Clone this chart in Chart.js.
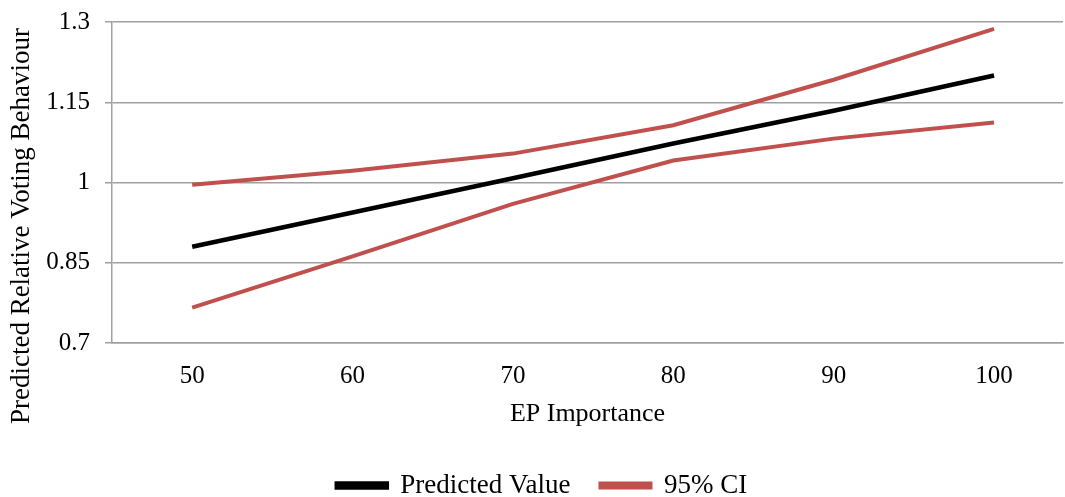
<!DOCTYPE html>
<html>
<head>
<meta charset="utf-8">
<script src="https://cdn.jsdelivr.net/npm/chart.js@4/dist/chart.umd.min.js"></script>
<style>
    html, body { margin: 0; padding: 0; background: #fff; }
    #wrap { width: 1065px; height: 497px; position: relative; }
</style>
</head>
<body>
<div id="wrap"><canvas id="chart"></canvas></div>
<script>
const categories = [50, 60, 70, 80, 90, 100];
const predicted = [0.880, 0.944, 1.008, 1.073, 1.134, 1.200];
const upperCI = [0.996, 1.022, 1.054, 1.107, 1.192, 1.287];
const lowerCI = [0.766, 0.862, 0.960, 1.041, 1.082, 1.112];
const yTicks = [0.7, 0.85, 1, 1.15, 1.3];
const xTitle = 'EP Importance';
const yTitle = 'Predicted Relative Voting Behaviour';

const FONT = '"Liberation Serif", "Times New Roman", serif';
const GRID = '#a0a0a0';
const RED = '#c0504d';

const toPoints = values => categories.map((c, i) => ({ x: c, y: values[i] }));

// legend height is fixed so the plot area lands where the original has it
const legendFit = {
    id: 'legendFit',
    beforeLayout(chart) {
        const legend = chart.legend;
        if (legend && !legend._patched) {
            const fit = legend.fit;
            legend.fit = function () {
                fit.call(this);
                this.height = 55;
            };
            legend._patched = true;
        }
    }
};

const yTitlePlugin = {
    id: 'yTitle',
    afterDraw(chart) {
        const ctx = chart.ctx;
        ctx.save();
        ctx.translate(22, 226);
        ctx.rotate(-Math.PI / 2);
        ctx.font = '27px ' + FONT;
        ctx.fillStyle = '#000';
        ctx.textAlign = 'center';
        ctx.textBaseline = 'middle';
        ctx.fillText(yTitle, 0, 0);
        ctx.restore();
    }
};

new Chart(document.getElementById('chart'), {
    type: 'line',
    data: {
        datasets: [
            {
                label: 'Predicted Value',
                data: toPoints(predicted),
                borderColor: '#000',
                backgroundColor: '#000',
                borderWidth: 4.5,
                pointRadius: 0,
                tension: 0
            },
            {
                label: '95% CI',
                data: toPoints(upperCI),
                borderColor: RED,
                backgroundColor: RED,
                borderWidth: 4,
                pointRadius: 0,
                tension: 0
            },
            {
                label: '95% CI lower',
                data: toPoints(lowerCI),
                borderColor: RED,
                backgroundColor: RED,
                borderWidth: 4,
                pointRadius: 0,
                tension: 0
            }
        ]
    },
    options: {
        responsive: true,
        maintainAspectRatio: false,
        animation: false,
        layout: {
            padding: { left: 21, right: 2, top: 0, bottom: 0 }
        },
        plugins: {
            legend: {
                position: 'bottom',
                labels: {
                    boxWidth: 50,
                    boxHeight: 4,
                    padding: 30,
                    color: '#000',
                    font: { family: FONT, size: 27 },
                    filter: item => item.datasetIndex < 2
                }
            },
            tooltip: { enabled: false }
        },
        scales: {
            x: {
                type: 'linear',
                min: 45,
                max: 104.3,
                afterBuildTicks: scale => {
                    scale.ticks = categories.map(v => ({ value: v }));
                },
                grid: { display: false, drawTicks: false },
                border: { display: true, color: GRID, width: 1.5 },
                ticks: {
                    color: '#000',
                    padding: 18,
                    font: { family: FONT, size: 25 },
                    callback: value => String(value)
                },
                title: {
                    display: true,
                    text: xTitle,
                    color: '#000',
                    font: { family: FONT, size: 26 },
                    padding: { top: 0, bottom: 12 }
                },
                afterFit: scale => { scale.height = 99; }
            },
            y: {
                min: 0.7,
                max: 1.3,
                afterBuildTicks: scale => {
                    scale.ticks = yTicks.map(v => ({ value: v }));
                },
                grid: { color: GRID, lineWidth: 1.5, tickLength: 7 },
                border: { display: true, color: GRID, width: 1.5 },
                ticks: {
                    color: '#000',
                    padding: 15,
                    font: { family: FONT, size: 25 },
                    callback: value => String(value)
                },
                afterFit: scale => {
                    scale.width = 91;
                    scale.paddingTop = 22;
                    scale.paddingBottom = 0;
                }
            }
        }
    },
    plugins: [legendFit, yTitlePlugin]
});
</script>
</body>
</html>
